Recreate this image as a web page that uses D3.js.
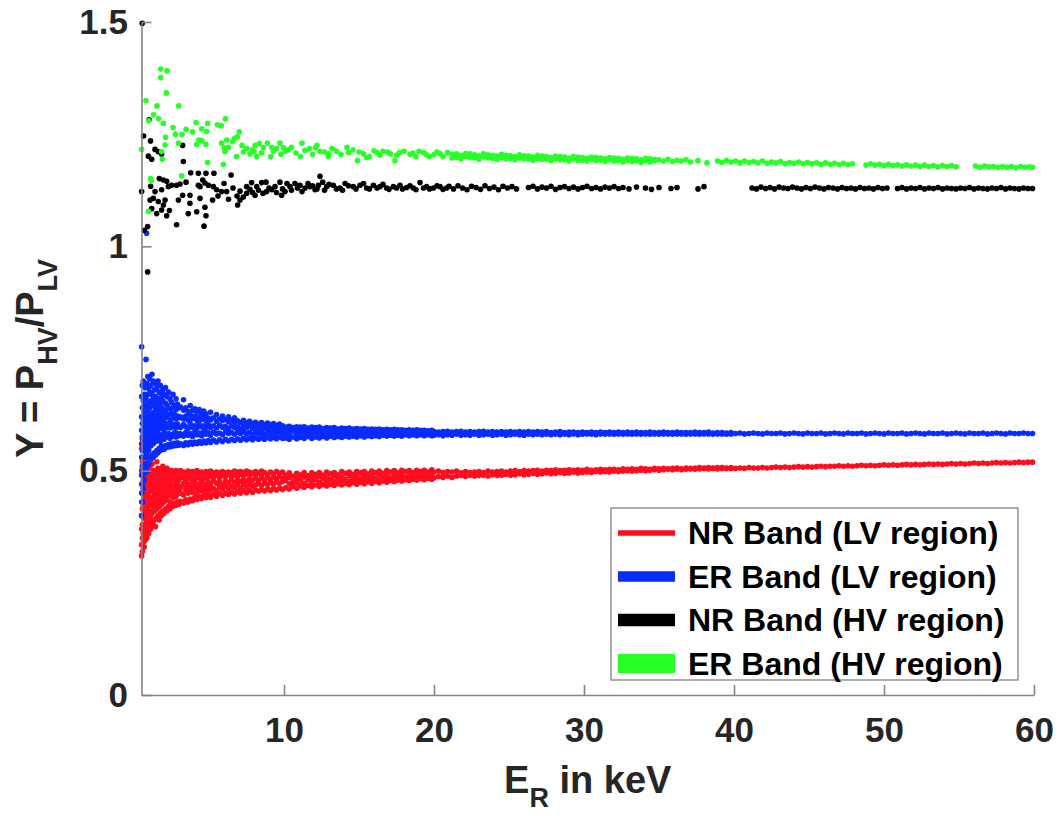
<!DOCTYPE html>
<html>
<head>
<meta charset="utf-8">
<script src="https://cdn.jsdelivr.net/npm/d3@7"></script>
<style>
  html, body { margin: 0; padding: 0; background: #fff; }
  svg { display: block; }
  text { font-family: "Liberation Sans", Arial, Helvetica, sans-serif; font-weight: bold; }
</style>
</head>
<body>
<svg id="chart" width="1059" height="816"></svg>
<script>
// ---------- data ----------
const categories = ["NR Band (LV region)", "ER Band (LV region)", "NR Band (HV region)", "ER Band (HV region)"];
const xTicks = [10, 20, 30, 40, 50, 60];
const yTicks = [0, 0.5, 1, 1.5];
const yTickLabels = ["0", "0.5", "1", "1.5"];
const xDomain = [0.5, 60];
const yDomain = [0, 1.5];

// each entry: [E_R (keV), Y values observed at that energy...]
const nrLV = [
 [0.51,.31,.335,.37,.40,.43,.47,.50,.55],[0.56,.32,.35,.38,.415,.45,.49,.52,.57],[0.62,.34,.36,.395,.42,.46,.48,.51],
 [0.68,.33,.37,.41,.44,.465,.50],[0.74,.345,.38,.40,.435,.47,.49,.53],[0.8,.355,.39,.425,.45,.48,.51],
 [0.86,.35,.375,.41,.44,.46,.495,.56],[0.92,.365,.40,.42,.455,.485,.50],[0.98,.36,.385,.43,.45,.47,.505],
 [1.05,.375,.41,.425,.46,.49,.51],[1.12,.37,.395,.435,.465,.48,.50],[1.2,.385,.405,.44,.455,.475,.515],
 [1.28,.38,.42,.43,.46,.49,.50],[1.36,.39,.41,.445,.47,.485],[1.44,.375,.425,.44,.465,.50],[1.52,.395,.415,.45,.475,.49,.52],
 [1.6,.40,.43,.445,.46,.485,.505],[1.68,.39,.42,.455,.48,.495],[1.76,.405,.435,.45,.47,.50],[1.84,.40,.425,.46,.485,.495],
 [1.92,.41,.44,.455,.47,.49,.51],[2.0,.405,.43,.45,.475,.50],[2.1,.415,.44,.465,.48,.495],[2.2,.41,.435,.455,.47,.49,.505],
 [2.3,.42,.445,.46,.485,.50],[2.4,.415,.43,.455,.475,.49],[2.5,.425,.445,.465,.48,.50],[2.6,.42,.44,.46,.49,.498],
 [2.7,.428,.45,.468,.482,.495],[2.8,.423,.442,.458,.477,.50],[2.9,.43,.448,.47,.485,.497],[3.0,.425,.455,.465,.48,.495],
 [3.1,.432,.45,.462,.488,.5],[3.3,.428,.446,.472,.485,.497],[3.45,.435,.457,.466,.48,.495],[3.6,.43,.45,.47,.49,.499],
 [3.75,.437,.455,.463,.482,.494],[3.9,.433,.452,.474,.486,.498],[4.05,.44,.46,.468,.48,.496],[4.2,.436,.449,.47,.489,.5],
 [4.35,.442,.458,.465,.484,.495],[4.5,.438,.455,.476,.487,.497],[4.65,.444,.46,.47,.482,.494],[4.8,.44,.453,.467,.49,.498],
 [4.95,.446,.462,.474,.485,.496],[5.1,.441,.457,.469,.488,.499],[5.3,.447,.46,.478,.486,.495],[5.5,.443,.455,.472,.49,.497],
 [5.7,.449,.463,.475,.484,.496],[5.9,.445,.459,.47,.489,.498],[6.1,.45,.466,.477,.487,.495],[6.3,.447,.46,.473,.491,.497],
 [6.5,.452,.465,.48,.488,.496],[6.7,.448,.462,.475,.49,.499],[6.9,.453,.468,.478,.486,.497],[7.1,.45,.461,.476,.492,.498],
 [7.3,.455,.469,.481,.489,.496],[7.5,.451,.464,.477,.493,.499],[7.7,.456,.47,.48,.488,.497],[7.9,.452,.466,.479,.494],
 [8.1,.457,.468,.483,.49,.498],[8.3,.454,.471,.478,.495],[8.5,.458,.467,.484,.491,.499],[8.7,.455,.472,.48,.496],
 [8.9,.459,.469,.485,.492],[9.1,.456,.474,.481,.497],[9.3,.46,.47,.486,.493],[9.5,.457,.475,.482,.498],
 [9.7,.461,.472,.487,.494],[9.9,.458,.476,.483,.497],
 [10.1,.462,.478,.49],[10.35,.459,.471,.485,.495],[10.6,.465,.476,.488],[10.85,.461,.474,.483,.494],[11.1,.466,.479,.491],
 [11.35,.463,.472,.486,.496],[11.6,.467,.48,.489],[11.85,.464,.475,.484,.495],[12.1,.468,.481,.492],[12.35,.465,.474,.487,.496],
 [12.6,.469,.482,.49],[12.85,.466,.477,.485,.497],[13.1,.47,.48,.493],[13.35,.467,.476,.488,.496],[13.6,.471,.483,.491],
 [13.85,.468,.478,.486,.498],[14.1,.472,.481,.494],[14.35,.469,.477,.489,.497],[14.6,.473,.484,.492],[14.85,.47,.479,.487,.498],
 [15.1,.474,.482,.495],[15.35,.471,.478,.49,.498],[15.6,.475,.485,.493],[15.85,.472,.48,.488,.499],[16.1,.476,.483,.496],
 [16.35,.473,.479,.491,.499],[16.6,.477,.486,.494],[16.85,.474,.481,.489,.5],[17.1,.478,.484,.497],[17.35,.476,.482,.492,.5],
 [17.6,.479,.487,.495],[17.85,.477,.483,.49,.501],[18.1,.48,.486,.498],[18.35,.478,.484,.493,.5],[18.6,.481,.488,.496],
 [18.85,.479,.485,.491,.501],[19.1,.482,.487,.498],[19.35,.48,.486,.494,.501],[19.6,.483,.489,.497],[19.85,.481,.488,.495,.502],
 [20.0,.484,.497],[20.3,.487,.499],[20.6,.485,.496],[20.9,.488,.498],[21.2,.485,.497],[21.5,.488,.499],[21.8,.489,.495],
 [22.1,.487,.498],[22.4,.49,.496],[22.7,.488,.497],[23.0,.489,.498],[23.3,.49,.496],[23.6,.488,.499],[23.9,.491,.497],
 [24.2,.489,.498],[24.5,.49,.499],[24.8,.492,.497],[25.1,.49,.499],[25.4,.491,.5],[25.7,.493,.498],[26.0,.491,.5],
 [26.3,.492,.499],[26.6,.494,.5],[26.9,.492,.501],[27.2,.493,.499],[27.5,.495,.501],[27.8,.493,.5],[28.1,.494,.502],
 [28.4,.496,.5],[28.7,.494,.501],[29.0,.495,.502],[29.3,.497,.501],[29.6,.495,.502],[29.9,.496,.501],[30.2,.497,.503],
 [30.5,.496,.501],[30.8,.498,.502],[31.1,.497,.503],[31.4,.498,.502],[31.7,.497,.503],[32.0,.499,.503],[32.3,.498,.502],
 [32.6,.499,.504],[32.9,.5,.503],[33.2,.499,.504],[33.5,.5,.503],[33.8,.501,.505],[34.1,.5,.504],[34.4,.501,.503],
 [34.7,.502,.505],[35.0,.501,.504],[35.3,.502,.505],[35.6,.503,.504],[35.9,.502,.505],[36.2,.503,.506],[36.5,.502,.504],
 [36.8,.503,.506],[37.1,.504,.505],[37.4,.503,.506],[37.7,.504,.507],[38.0,.505,.506],[38.3,.504,.507],[38.6,.505,.506],
 [38.9,.504,.507],[39.2,.505,.507],[39.5,.506,.505],[39.8,.505,.507],
 [40.1,.505],[40.4,.506],[40.7,.505],[41.0,.507],[41.3,.506],[41.6,.506],[41.9,.507],[42.2,.506],[42.5,.507],[42.8,.508],
 [43.1,.507],[43.4,.508],[43.7,.507],[44.0,.508],[44.3,.509],[44.6,.508],[44.9,.509],[45.2,.508],[45.5,.509],[45.8,.51],
 [46.1,.509],[46.4,.51],[46.7,.51],[47.0,.511],[47.3,.51],[47.6,.511],[47.9,.51],[48.2,.511],[48.5,.512],[48.8,.511],
 [49.1,.512],[49.4,.511],[49.7,.512],[50.0,.513],[50.3,.512],[50.6,.513],[50.9,.512],[51.2,.513],[51.5,.514],[51.8,.513],
 [52.1,.514],[52.4,.513],[52.7,.514],[53.0,.515],[53.3,.514],[53.6,.515],[53.9,.514],[54.2,.515],[54.5,.516],[54.8,.515],
 [55.1,.516],[55.4,.515],[55.7,.516],[56.0,.517],[56.3,.516],[56.6,.517],[56.9,.516],[57.2,.517],[57.5,.518],[57.8,.517],
 [58.1,.518],[58.4,.517],[58.7,.518],[59.0,.519],[59.3,.518],[59.6,.519],[59.9,.519]
];

const erLV = [
 [0.51,.40,.45,.49,.53,.56,.59,.62,.665,.776],[0.56,.43,.47,.51,.545,.575,.605,.64,.69],[0.62,.46,.50,.53,.56,.58,.615,.655,.70],
 [0.68,.48,.515,.55,.57,.60,.63,.67],[0.74,.495,.53,.555,.59,.61,.645,.685],[0.8,.51,.54,.575,.60,.625,.66,.748],[0.84,1.029],
 [0.86,.50,.535,.565,.585,.615,.64,.695],[0.92,.52,.55,.58,.605,.63,.67,.71],[0.98,.515,.545,.57,.595,.62,.65,.685],
 [1.05,.53,.56,.585,.61,.64,.675,.705],[1.12,.525,.555,.575,.60,.625,.655,.69],[1.2,.535,.565,.59,.615,.645,.67,.715],
 [1.28,.53,.56,.58,.605,.63,.66,.70],[1.36,.54,.57,.595,.62,.65,.68],[1.44,.535,.565,.585,.61,.64,.665,.695],
 [1.52,.545,.575,.60,.625,.655,.685],[1.6,.54,.57,.59,.615,.635,.66,.70],[1.68,.55,.58,.605,.63,.645,.675],
 [1.76,.545,.565,.595,.62,.65,.69],[1.84,.555,.58,.60,.61,.64,.665],[1.92,.55,.575,.595,.625,.655,.68],
 [2.0,.548,.57,.59,.615,.635,.67],[2.1,.556,.58,.605,.63,.65,.685],[2.2,.552,.575,.596,.62,.645,.665],
 [2.3,.558,.583,.60,.625,.64,.675],[2.4,.553,.572,.595,.612,.638,.66],[2.5,.56,.58,.605,.628,.652],
 [2.6,.555,.577,.598,.618,.64,.67],[2.7,.561,.585,.602,.625,.645],[2.8,.556,.575,.595,.615,.636,.66],
 [2.9,.562,.583,.604,.622,.648],[3.0,.557,.578,.598,.618,.64],
 [3.1,.56,.582,.596,.62,.642],[3.3,.556,.577,.603,.615,.635,.658],[3.45,.562,.585,.598,.622,.64],[3.6,.558,.579,.594,.613,.632],
 [3.75,.563,.583,.605,.624,.645],[3.9,.559,.576,.597,.616,.634],[4.05,.564,.586,.6,.621,.638],[4.2,.56,.58,.595,.612,.63],
 [4.35,.565,.584,.603,.619,.636],[4.5,.561,.578,.598,.614,.628],[4.65,.566,.587,.6,.62,.633],[4.8,.562,.581,.596,.611,.627],
 [4.95,.567,.585,.602,.617],[5.1,.563,.579,.597,.613,.63],[5.3,.568,.586,.6,.618],[5.5,.564,.582,.595,.61,.625],
 [5.7,.569,.584,.601,.615],[5.9,.565,.58,.597,.612,.622],[6.1,.57,.587,.599,.614],[6.3,.566,.583,.594,.609,.62],
 [6.5,.57,.585,.6,.613],[6.7,.567,.581,.596,.608,.618],[6.9,.571,.586,.598,.611],[7.1,.568,.583,.593,.607],
 [7.3,.572,.587,.599,.612],[7.5,.569,.582,.595,.606],[7.7,.572,.585,.6,.61],[7.9,.569,.58,.594,.605],
 [8.1,.573,.586,.597,.608],[8.3,.57,.583,.592,.604],[8.5,.573,.585,.598,.607],[8.7,.57,.581,.594,.603],
 [8.9,.574,.587,.596,.606],[9.1,.571,.582,.593,.602],[9.3,.574,.586,.597,.605],[9.5,.571,.583,.594,.601],
 [9.7,.575,.587,.596,.604],[9.9,.572,.582,.592,.6],
 [10.1,.573,.585,.597],[10.35,.57,.58,.591,.599],[10.6,.575,.588,.596],[10.85,.571,.582,.593,.598],[11.1,.574,.586,.597],
 [11.35,.572,.581,.59,.598],[11.6,.576,.587,.595],[11.85,.572,.583,.592,.597],[12.1,.575,.586,.596],[12.35,.573,.581,.589,.597],
 [12.6,.576,.587,.594],[12.85,.573,.582,.591,.596],[13.1,.577,.585,.595],[13.35,.574,.58,.589,.596],[13.6,.576,.587,.593],
 [13.85,.574,.582,.59,.595],[14.1,.577,.585,.594],[14.35,.575,.581,.588,.595],[14.6,.577,.586,.593],[14.85,.575,.582,.589,.594],
 [15.1,.578,.585,.593],[15.35,.575,.581,.588,.594],[15.6,.578,.586,.592],[15.85,.576,.582,.589,.593],[16.1,.578,.585,.592],
 [16.35,.576,.581,.588,.593],[16.6,.579,.586,.591],[16.85,.577,.583,.589,.592],[17.1,.579,.585,.591],[17.35,.577,.582,.588,.592],
 [17.6,.579,.586,.591],[17.85,.577,.583,.589,.591],[18.1,.58,.585,.59],[18.35,.578,.582,.587,.591],[18.6,.58,.586,.59],
 [18.85,.578,.583,.588,.591],[19.1,.58,.585,.59],[19.35,.578,.582,.587,.59],[19.6,.58,.586,.589],[19.85,.578,.583,.588,.59],
 [20.0,.579,.587],[20.3,.58,.586],[20.6,.578,.587],[20.9,.58,.588],[21.2,.579,.586],[21.5,.581,.587],[21.8,.579,.588],
 [22.1,.58,.586],[22.4,.579,.587],[22.7,.581,.586],[23.0,.579,.587],[23.3,.58,.588],[23.6,.581,.586],[23.9,.579,.587],
 [24.2,.58,.586],[24.5,.581,.587],[24.8,.579,.586],[25.1,.58,.587],[25.4,.581,.586],[25.7,.58,.587],[26.0,.579,.586],
 [26.3,.581,.587],[26.6,.58,.586],[26.9,.581,.587],[27.2,.58,.586],[27.5,.581,.587],[27.8,.58,.585],[28.1,.581,.586],
 [28.4,.58,.587],[28.7,.581,.585],[29.0,.58,.586],[29.3,.582,.586],[29.6,.58,.585],[29.9,.581,.586],[30.2,.582,.585],
 [30.5,.581,.586],[30.8,.58,.585],[31.1,.582,.586],[31.4,.581,.585],[31.7,.582,.586],[32.0,.581,.585],[32.3,.582,.586],
 [32.6,.581,.585],[32.9,.582,.586],[33.2,.581,.585],[33.5,.582,.586],[33.8,.581,.585],[34.1,.582,.585],[34.4,.581,.586],
 [34.7,.582,.585],[35.0,.581,.585],[35.3,.582,.586],[35.6,.582,.585],[35.9,.581,.585],[36.2,.582,.586],[36.5,.582,.585],
 [36.8,.581,.585],[37.1,.582,.585],[37.4,.582,.586],[37.7,.581,.585],[38.0,.582,.585],[38.3,.582,.586],[38.6,.581,.584],
 [38.9,.582,.585],[39.2,.582,.585],[39.5,.581,.584],[39.8,.582,.585],
 [40.1,.583],[40.4,.584],[40.7,.582],[41.0,.583],[41.3,.584],[41.6,.583],[41.9,.582],[42.2,.584],[42.5,.583],[42.8,.583],
 [43.1,.584],[43.4,.582],[43.7,.583],[44.0,.584],[44.3,.583],[44.6,.582],[44.9,.584],[45.2,.583],[45.5,.583],[45.8,.584],
 [46.1,.582],[46.4,.583],[46.7,.584],[47.0,.583],[47.3,.582],[47.6,.584],[47.9,.583],[48.2,.583],[48.5,.584],[48.8,.582],
 [49.1,.583],[49.4,.584],[49.7,.583],[50.0,.582],[50.3,.584],[50.6,.583],[50.9,.583],[51.2,.584],[51.5,.582],[51.8,.583],
 [52.1,.584],[52.4,.583],[52.7,.582],[53.0,.584],[53.3,.583],[53.6,.583],[53.9,.584],[54.2,.582],[54.5,.583],[54.8,.584],
 [55.1,.583],[55.4,.582],[55.7,.584],[56.0,.583],[56.3,.583],[56.6,.584],[56.9,.582],[57.2,.583],[57.5,.584],[57.8,.583],
 [58.1,.582],[58.4,.584],[58.7,.583],[59.0,.583],[59.3,.584],[59.6,.583],[59.9,.583]
];

const nrHV = [
 [0.55,1.497],[0.51,1.122],[0.64,1.246],[0.69,1.036],[0.91,1.044,0.943],[0.96,1.201],[1.0,1.282],[1.07,1.103],[1.1,1.235],
 [1.11,1.134],[1.18,1.194,1.084],[1.29,1.107],[1.4,1.216,1.122],[1.51,1.073],[1.62,1.211,1.1],[1.69,1.151],
 [1.84,1.206,1.126,1.081],[1.96,1.148,1.092],[2.07,1.103],[2.18,1.145,1.068],[2.29,1.133],[2.36,1.08],[2.51,1.136],
 [2.84,1.136,1.048],[2.96,1.103],[3.07,1.139],[3.24,1.225,1.114],[3.29,1.189],[3.47,1.143],[3.62,1.073],[3.73,1.114,1.096],
 [3.78,1.164],[4.18,1.077],[4.29,1.163,1.136],[4.4,1.133,1.107],[4.58,1.148],[4.67,1.045],[4.73,1.141,1.087],
 [4.8,1.163,1.068],[4.96,1.136],[5.24,1.103],[5.29,1.133],[5.33,1.163],[5.51,1.126],[5.6,1.112],[5.84,1.122],[6.0,1.14],
 [6.18,1.122],[6.3,1.105],[6.47,1.159],[6.6,1.13],[6.87,1.112],[6.91,1.092],[7.07,1.103,1.123],[7.29,1.11],[7.51,1.118,1.133],
 [7.73,1.127],[7.84,1.142],[7.9,1.12],[8.07,1.114],[8.18,1.133],[8.3,1.125],[8.51,1.142],[8.6,1.118],[8.8,1.143],[8.84,1.122],
 [9.0,1.13],[9.18,1.126],[9.4,1.133],[9.5,1.12],[9.73,1.143],[9.84,1.114],[9.9,1.128],[10.07,1.122],[10.2,1.14],[10.4,1.133],
 [10.5,1.125],[10.73,1.14],[10.9,1.13],[11.07,1.136],[11.2,1.122],[11.4,1.13],[11.6,1.14],[11.73,1.133],[11.9,1.135],
 [12.07,1.126],[12.2,1.128],[12.29,1.136],[12.4,1.156],[12.58,1.143],[12.7,1.125],[12.84,1.133],[13.0,1.138],[13.29,1.136],
 [13.5,1.128],[13.73,1.13],[13.9,1.125],[14.07,1.14],[14.3,1.135],[14.62,1.133],[14.8,1.128],[15.07,1.136],[15.3,1.14],
 [15.51,1.13],[15.7,1.128],[15.96,1.136],[16.2,1.13],[16.4,1.133],[16.6,1.138],[16.84,1.13],[17.0,1.127],[17.29,1.133],
 [17.5,1.13],[17.73,1.136],[17.9,1.128],[18.18,1.131],[18.4,1.135],[18.62,1.13],[18.8,1.126],[19.07,1.142],[19.3,1.13],
 [19.51,1.133],[19.7,1.128],[19.96,1.13],[20.2,1.135],[20.4,1.133],[20.6,1.127],[20.84,1.13],[21.0,1.134],
 [21.3,1.128],[21.6,1.135],[21.9,1.13],[22.2,1.126],[22.5,1.134],[22.8,1.131],[23.1,1.127],[23.4,1.135],[23.7,1.129],
 [24.0,1.132],[24.3,1.126],[24.6,1.134],[24.9,1.13],[25.2,1.133],[25.5,1.128],[26.3,1.131],[26.6,1.134],[26.9,1.128],
 [27.2,1.132],[27.5,1.13],[27.8,1.134],[28.1,1.127],[28.4,1.131],[28.7,1.133],[29.0,1.129],[29.3,1.132],[29.6,1.128],
 [29.9,1.131],[30.2,1.134],[30.5,1.129],[30.8,1.131],[31.1,1.128],[31.4,1.132],[31.7,1.13],[32.0,1.133],[32.3,1.129],
 [32.6,1.131],[33.0,1.128],[33.5,1.132],[34.1,1.13],[34.5,1.127],[35.0,1.131],[35.8,1.129],[36.2,1.131],[37.6,1.128],
 [38.0,1.133],[41.2,1.13],[41.5,1.128],[41.8,1.132],[42.1,1.129],[42.4,1.131],[42.7,1.128],[43.0,1.132],[43.3,1.13],
 [43.6,1.129],[43.9,1.132],[44.2,1.13],[44.5,1.128],[44.8,1.131],[45.1,1.129],[45.4,1.132],[45.7,1.13],[46.0,1.128],
 [46.3,1.131],[46.6,1.13],[46.9,1.128],[47.2,1.131],[47.5,1.129],[47.8,1.13],[48.1,1.128],[48.4,1.131],[48.7,1.129],
 [49.0,1.13],[49.3,1.128],[49.6,1.131],[49.9,1.129],[50.2,1.13],[50.9,1.129],[51.2,1.131],[51.5,1.128],[51.8,1.13],
 [52.1,1.129],[52.4,1.131],[52.7,1.128],[53.0,1.13],[53.3,1.129],[53.6,1.131],[53.9,1.128],[54.2,1.13],[54.5,1.129],
 [54.8,1.128],[55.1,1.13],[55.4,1.129],[55.7,1.131],[56.0,1.128],[56.3,1.13],[56.6,1.129],[56.9,1.128],[57.2,1.13],
 [57.5,1.129],[57.8,1.131],[58.1,1.128],[58.4,1.13],[58.7,1.129],[59.0,1.128],[59.3,1.13],[59.6,1.129],[59.9,1.129]
];

const erHV = [
 [0.51,1.216],[0.8,1.325],[0.96,1.078],[0.98,1.28],[1.11,1.151],[1.16,1.147],[1.3,1.293],[1.53,1.313],[1.64,1.285],
 [1.78,1.395,1.376],[1.84,1.211],[1.89,1.194],[1.96,1.274],[2.07,1.226],[2.11,1.243],[2.16,1.342],[2.2,1.391],[2.6,1.265],
 [2.76,1.25],[2.96,1.23],[2.98,1.313],[3.18,1.157],[3.2,1.249],[3.47,1.261],[3.91,1.255],[4.13,1.276],[4.18,1.227],
 [4.33,1.237],[4.51,1.262],[4.53,1.235],[4.8,1.227],[4.84,1.256],[4.91,1.274,1.187],[5.56,1.271],[5.82,1.269],[5.84,1.23],
 [5.96,1.183],[6.02,1.22],[6.07,1.211],[6.1,1.284],[6.18,1.237],[6.3,1.221],[6.58,1.233],[6.71,1.241],[6.84,1.2],
 [6.89,1.244],[7.02,1.255],[7.2,1.225],[7.29,1.21],[7.5,1.218],[7.73,1.206],[7.9,1.215],[8.0,1.212],[8.07,1.225],[8.18,1.2],
 [8.36,1.229],[8.5,1.208],[8.62,1.22],[8.89,1.23],[9.11,1.2],[9.18,1.221],[9.3,1.212],[9.51,1.218],[9.73,1.23],[9.8,1.205],
 [9.96,1.22],[10.1,1.212],[10.3,1.215],[10.5,1.221],[10.8,1.208],[11.1,1.2],[11.2,1.23],[11.4,1.214],[11.7,1.218],
 [11.9,1.205],[12.1,1.22],[12.2,1.225],[12.4,1.212],[12.7,1.21],[12.96,1.2],[12.98,1.206],[13.2,1.218],[13.5,1.212],
 [13.8,1.205],[14.2,1.221],[14.3,1.209],[14.6,1.215],[14.9,1.191],[15.0,1.21],[15.3,1.206],[15.5,1.198],[15.7,1.2],
 [16.0,1.213],[16.2,1.209],[16.4,1.203],[16.6,1.212],[16.9,1.21],[17.1,1.206],[17.4,1.191],[17.5,1.203],[17.7,1.209],
 [18.0,1.212],[18.4,1.205],[18.6,1.208],[18.8,1.2],[19.0,1.212],[19.3,1.209],[19.5,1.204],[19.7,1.2],[20.0,1.204],
 [20.2,1.21],[20.4,1.207],[20.6,1.2],[20.9,1.209],
 [21.2,1.205,1.197],[21.5,1.198,1.206],[21.8,1.203,1.195],[22.1,1.2,1.207],[22.4,1.206,1.198],[22.7,1.197,1.204],
 [23.0,1.202,1.194],[23.3,1.199,1.206],[23.6,1.204,1.197],[23.9,1.196,1.203],[24.2,1.201,1.194],[24.5,1.198,1.205],
 [24.8,1.203,1.195],[25.1,1.196,1.202],[25.4,1.2,1.193],[25.7,1.197,1.204],[26.0,1.202,1.195],[26.3,1.195,1.201],
 [26.6,1.199,1.192],[26.9,1.196,1.203],[27.2,1.201,1.194],[27.5,1.194,1.2],[27.8,1.198,1.191],[28.1,1.195,1.201],
 [28.4,1.2,1.193],[28.7,1.193,1.199],[29.0,1.197,1.19],[29.3,1.195,1.2],[29.6,1.199,1.192],[29.9,1.192,1.198],
 [30.2,1.196,1.19],[30.5,1.194,1.199],[30.8,1.198,1.191],[31.1,1.192,1.197],[31.4,1.195,1.189],[31.7,1.193,1.198],
 [32.0,1.197,1.19],[32.3,1.191,1.196],[32.6,1.194,1.188],[32.9,1.192,1.197],[33.2,1.196,1.189],[33.5,1.19,1.195],
 [33.8,1.193,1.187],[34.1,1.191,1.196],[34.4,1.195,1.188],[34.7,1.19,1.194],[35.0,1.193],[35.3,1.19],[35.6,1.194],
 [35.9,1.189],[36.2,1.192],[36.5,1.19],[36.8,1.193],[37.1,1.188],
 [37.6,1.191],[38.2,1.186],[38.9,1.19],[39.2,1.187],[39.5,1.191],[39.8,1.188],[40.1,1.19],[40.4,1.186],[40.7,1.19],
 [41.0,1.187],[41.3,1.189],[41.6,1.186],[41.9,1.19],[42.2,1.185],[42.5,1.188],[42.8,1.186],[43.1,1.189],[43.4,1.184],
 [43.7,1.187],[44.0,1.185],[44.3,1.188],[44.6,1.184],[44.9,1.187],[45.2,1.184],[45.5,1.186],[45.8,1.183],[46.1,1.186],
 [46.4,1.183],[46.7,1.185],[47.0,1.182],[47.3,1.185],[47.6,1.182],[47.9,1.184],[48.8,1.181],[49.1,1.184],[49.4,1.181],
 [49.7,1.183],[50.0,1.18],[50.3,1.183],[50.6,1.18],[50.9,1.182],[51.2,1.179],[51.5,1.182],[51.8,1.179],[52.1,1.181],
 [52.4,1.178],[52.7,1.181],[53.0,1.178],[53.3,1.18],[53.6,1.177],[53.9,1.18],[54.2,1.178],[54.5,1.18],[54.8,1.177],
 [56.1,1.179],[56.4,1.176],[56.7,1.179],[57.0,1.177],[57.3,1.178],[57.6,1.176],[57.9,1.178],[58.2,1.176],[58.5,1.178],
 [58.8,1.175],[59.1,1.178],[59.4,1.176],[59.7,1.177],[59.9,1.176]
];

// ---------- styles ----------
const colors = ["#ff0d1f", "#0a2bff", "#000000", "#28ff28"];
const legendSwatchH = [5.5, 10.5, 12.5, 19];
const seriesData = [nrLV, erLV, nrHV, erHV];

// ---------- drawing ----------
const svg = d3.select("#chart");
const x = d3.scaleLinear().domain(xDomain).range([141.5, 1034]);
const y = d3.scaleLinear().domain(yDomain).range([695, 22]);

const axisColor = "#858585";
const textColor = "#262626";

// points
const flatten = cols => cols.flatMap(c => c.slice(1).map(v => [c[0], v]));
seriesData.forEach((cols, i) => {
  svg.append("g")
    .selectAll("circle")
    .data(flatten(cols))
    .join("circle")
    .attr("cx", d => x(d[0]))
    .attr("cy", d => y(d[1]))
    .attr("r", 2.8)
    .attr("fill", colors[i]);
});

// x axis
const gx = svg.append("g")
  .attr("transform", `translate(0,${y(0)})`)
  .call(d3.axisBottom(x).tickValues(xTicks).tickFormat(d3.format("d"))
        .tickSizeInner(-10).tickSizeOuter(0).tickPadding(22));
// y axis
const gy = svg.append("g")
  .attr("transform", `translate(${x(xDomain[0])},0)`)
  .call(d3.axisLeft(y).tickValues(yTicks).tickFormat((d, i) => yTickLabels[i])
        .tickSizeInner(-10).tickSizeOuter(0).tickPadding(13.5));

[gx, gy].forEach(g => {
  g.select(".domain").attr("stroke", axisColor).attr("stroke-width", 1.6);
  g.selectAll(".tick line").attr("stroke", axisColor).attr("stroke-width", 1.6);
  g.selectAll(".tick text")
    .attr("fill", textColor)
    .attr("font-size", 35)
    .attr("font-family", "Liberation Sans, Arial, Helvetica, sans-serif")
    .attr("font-weight", "bold");
});

// axis titles
const xl = svg.append("text")
  .attr("x", (x.range()[0] + x.range()[1]) / 2)
  .attr("y", 793)
  .attr("text-anchor", "middle")
  .attr("fill", textColor)
  .attr("font-size", 38);
xl.append("tspan").text("E");
xl.append("tspan").attr("font-size", 27).attr("dy", 14).text("R");
xl.append("tspan").attr("dy", -14).text(" in keV");

const yl = svg.append("text")
  .attr("transform", `translate(43,${(y.range()[0] + y.range()[1]) / 2}) rotate(-90)`)
  .attr("text-anchor", "middle")
  .attr("fill", textColor)
  .attr("font-size", 38);
yl.append("tspan").text("Y = P");
yl.append("tspan").attr("font-size", 27).attr("dy", 14).text("HV");
yl.append("tspan").attr("dy", -14).text("/P");
yl.append("tspan").attr("font-size", 27).attr("dy", 14).text("LV");

// legend
const lg = svg.append("g");
lg.append("rect")
  .attr("x", 611).attr("y", 508).attr("width", 407).attr("height", 172)
  .attr("fill", "#fff").attr("stroke", "#8a8a8a").attr("stroke-width", 1.4);
categories.forEach((name, i) => {
  const cy = 533 + i * 43.5;
  lg.append("rect")
    .attr("x", 618).attr("y", cy - legendSwatchH[i] / 2)
    .attr("width", 57).attr("height", legendSwatchH[i])
    .attr("fill", colors[i]);
  lg.append("text")
    .attr("x", 688).attr("y", cy + 11)
    .attr("font-size", 32).attr("fill", "#000")
    .text(name);
});
</script>
</body>
</html>
